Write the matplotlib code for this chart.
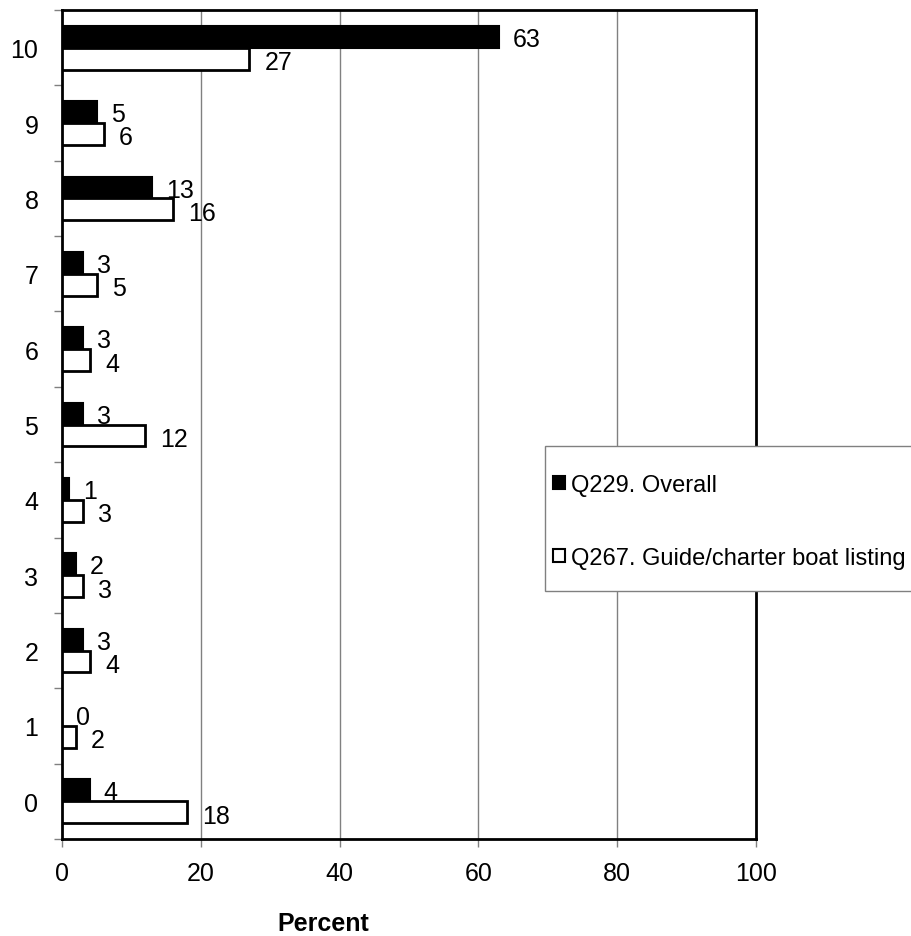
import matplotlib
matplotlib.use('Agg')
import matplotlib.pyplot as plt
from matplotlib.patches import Patch, Rectangle
import numpy as np

plt.rcParams['font.family'] = ['Liberation Sans', 'DejaVu Sans']

# шкала оценок 0..10 и проценты по двум вопросам
categories = [0, 1, 2, 3, 4, 5, 6, 7, 8, 9, 10]
overall = [4, 0, 3, 2, 1, 3, 3, 3, 13, 5, 63]
guide = [18, 2, 4, 3, 3, 12, 4, 5, 16, 6, 27]
series_names = ['Q229. Overall', 'Q267. Guide/charter boat listing']
x_ticks = [0, 20, 40, 60, 80, 100]

W, H = 911, 937
fig = plt.figure(figsize=(W / 100, H / 100), dpi=100)
ax = fig.add_axes([62 / W, 1 - 840 / H, (756 - 62) / W, (840 - 11) / H])

y = np.arange(len(categories))
h = 0.29
ax.barh(y + h / 2, overall, height=h, color='black', edgecolor='black', linewidth=1.5, zorder=3)
ax.barh(y - h / 2, guide, height=h, color='white', edgecolor='black', linewidth=2, zorder=3)

# подписи значений справа от столбиков
for yi, v in zip(y, overall):
    ax.annotate(str(v), (v, yi + h / 2), xytext=(10, -1.5), textcoords='offset points',
                ha='left', va='center', fontsize=18, zorder=4)
for yi, v in zip(y, guide):
    ax.annotate(str(v), (v, yi - h / 2), xytext=(11, -2.5), textcoords='offset points',
                ha='left', va='center', fontsize=18, zorder=4)

ax.set_xlim(0, 100)
ax.set_ylim(-0.5, len(categories) - 0.5)
ax.set_xticks(x_ticks)
ax.set_xticklabels([str(t) for t in x_ticks], fontsize=18)
ax.set_yticks(y)
ax.set_yticklabels([str(c) for c in categories], fontsize=18)
ax.set_yticks(np.arange(-0.5, len(categories)), minor=True)
ax.tick_params(axis='y', which='major', length=0, pad=17)
ax.tick_params(axis='y', which='minor', length=6, width=1, color='#808080')
ax.tick_params(axis='x', which='major', length=6, width=1, color='#808080', pad=10)

# вертикальная сетка
for gx in x_ticks[1:-1]:
    ax.axvline(gx, color='#808080', linewidth=1, zorder=1)

for s in ax.spines.values():
    s.set_linewidth(2)
    s.set_color('black')

fig.text(323 / W, 1 - 924 / H, 'Percent', fontsize=18, fontweight='bold',
         ha='center', va='center')

# рамка легенды заходит за правый край рисунка
box = Rectangle((545 / W, 1 - 592 / H), (925 - 545) / W, (592 - 447) / H,
                transform=fig.transFigure, facecolor='white', edgecolor='#808080',
                linewidth=1, zorder=5)
fig.add_artist(box)

handles = [Patch(facecolor='black', edgecolor='black', linewidth=1.5),
           Patch(facecolor='white', edgecolor='black', linewidth=1.5)]
leg = fig.legend(handles, series_names, loc='upper left',
                 bbox_to_anchor=(553 / W, 1 - 475 / H), bbox_transform=fig.transFigure,
                 borderaxespad=0, borderpad=0, fontsize=17, frameon=False,
                 handlelength=0.5, handleheight=0.5, handletextpad=0.25,
                 labelspacing=2.15)
leg.set_zorder(6)

fig.savefig('out.png', dpi=100)
